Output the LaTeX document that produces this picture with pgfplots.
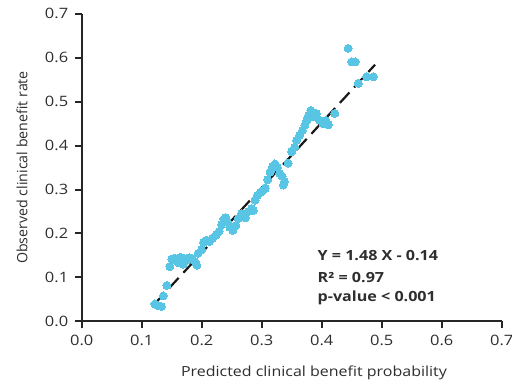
\documentclass[border=0pt]{standalone}
\usepackage{pgfplots}
\pgfplotsset{compat=1.18}
\usepackage{fontspec}
\setmainfont{Open Sans}
\newfontfamily\wide[FakeStretch=1.15]{Open Sans}
\definecolor{pt}{RGB}{88,197,228}
\begin{document}
\begin{tikzpicture}
\begin{axis}[
  at={(0,0)}, anchor=south west,
  scale only axis, width=420pt, height=308pt,
  xmin=0, xmax=0.7, ymin=0, ymax=0.7,
  axis x line*=bottom, axis y line*=left,
  axis line style={line width=2pt, black!85},
  xtick={0,0.1,...,0.7}, ytick={0,0.1,...,0.7},
  tick style={line width=2pt, black!85},
  tick align=outside, major tick length=7pt,
  /pgf/number format/assume math mode=true,
  /pgf/number format/fixed, /pgf/number format/fixed zerofill,
  /pgf/number format/precision=1,
  ticklabel style={font=\wide\fontsize{14.3}{17}\selectfont, text=black!82},
  xticklabel style={yshift=-3pt},
  yticklabel style={xshift=-3pt},
  xlabel={Predicted clinical benefit probability},
  ylabel={Observed clinical benefit rate},
  xlabel style={font=\wide\fontsize{13.9}{16}\selectfont, text=black!82, at={(axis description cs:0.553,-0.167)}, anchor=center},
  ylabel style={font=\fontsize{14.2}{16}\selectfont, text=black!82, at={(axis description cs:-0.142,0.5)}, anchor=center},
  clip=false,
]
\addplot[only marks, mark=*, mark size=4pt, mark options={fill=pt, draw=pt, line width=0pt}] table {
x y
0.122 0.040
0.127 0.036
0.133 0.034
0.136 0.058
0.142 0.082
0.147 0.125
0.150 0.142
0.155 0.144
0.158 0.138
0.161 0.134
0.165 0.146
0.169 0.130
0.172 0.143
0.176 0.140
0.180 0.145
0.184 0.142
0.189 0.136
0.192 0.128
0.194 0.155
0.200 0.163
0.203 0.180
0.208 0.185
0.213 0.182
0.218 0.189
0.224 0.197
0.229 0.205
0.233 0.220
0.237 0.233
0.240 0.236
0.243 0.226
0.247 0.214
0.252 0.207
0.257 0.218
0.261 0.234
0.266 0.245
0.270 0.240
0.273 0.236
0.278 0.250
0.283 0.257
0.286 0.252
0.289 0.276
0.293 0.287
0.298 0.294
0.302 0.297
0.306 0.303
0.310 0.322
0.314 0.340
0.318 0.352
0.322 0.358
0.326 0.350
0.330 0.337
0.334 0.330
0.338 0.318
0.336 0.310
0.344 0.360
0.350 0.386
0.355 0.396
0.358 0.412
0.363 0.423
0.368 0.434
0.372 0.446
0.375 0.457
0.378 0.468
0.382 0.480
0.386 0.465
0.391 0.473
0.396 0.458
0.402 0.450
0.407 0.457
0.411 0.447
0.422 0.473
0.444 0.621
0.450 0.590
0.456 0.590
0.461 0.541
0.475 0.556
0.486 0.556
};
\addplot[black!90, line width=2.2pt, dash pattern=on 14pt off 7pt] coordinates {(0.122,0.0406) (0.489,0.5837)};
\node[anchor=west, font=\wide\fontsize{14}{17}\selectfont\bfseries, text=black!82, inner sep=0pt] at (axis cs:0.393,0.151) {Y = 1.48 X - 0.14};
\node[anchor=west, font=\wide\fontsize{14}{17}\selectfont\bfseries, text=black!82, inner sep=0pt] at (axis cs:0.393,0.101) {R² = 0.97};
\node[anchor=west, font=\wide\fontsize{14}{17}\selectfont\bfseries, text=black!82, inner sep=0pt] at (axis cs:0.393,0.053) {p-value < 0.001};
\end{axis}
\pgfresetboundingbox
\path (-81.7pt,-63.5pt) rectangle (430.3pt,321.5pt);
\end{tikzpicture}
\end{document}
